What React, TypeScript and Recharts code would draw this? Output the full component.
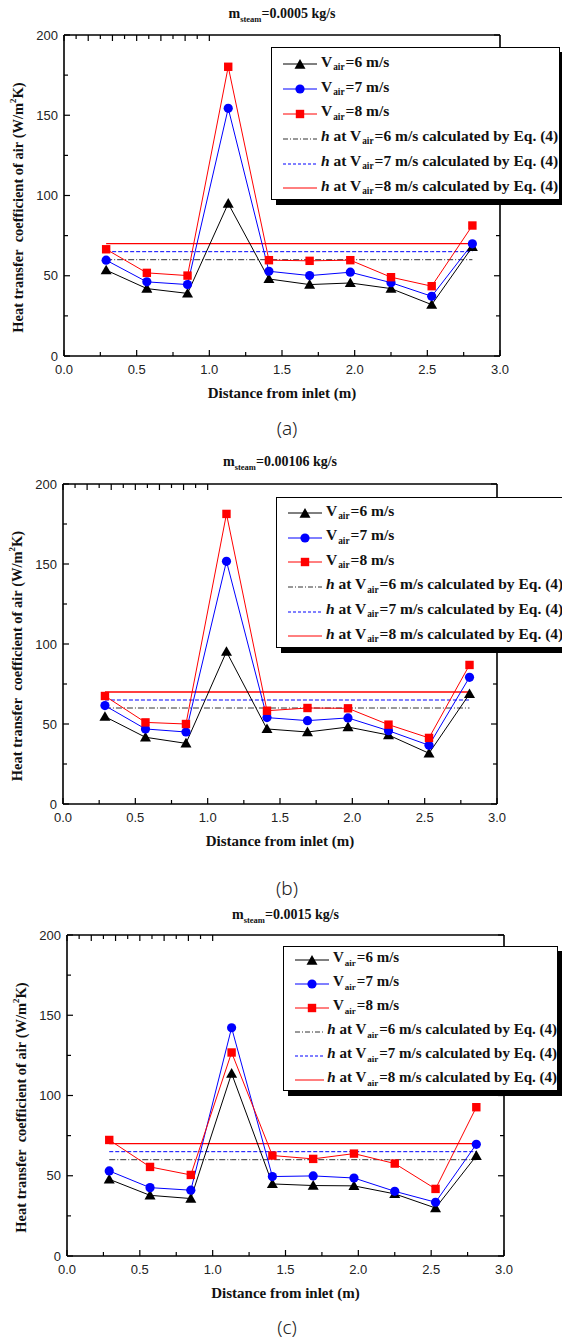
import React from 'react';
import { LineChart, Line, XAxis, YAxis, Legend, Label } from 'recharts';

// distance of each measuring point from the inlet (m)
const distance = [0.29, 0.57, 0.85, 1.13, 1.41, 1.69, 1.97, 2.25, 2.53, 2.81];

// (a) m_steam = 0.0005 kg/s
const hA6 = [53.5, 42, 39, 95, 48, 44.5, 45.5, 42, 32, 68];
const hA7 = [59.7, 46.2, 44.5, 154.3, 52.8, 50.1, 52.2, 45.7, 37.2, 69.9];
const hA8 = [66.5, 51.8, 50.1, 180.2, 59.7, 59.3, 59.7, 49.1, 43.5, 81.3];

// (b) m_steam = 0.00106 kg/s
const hB6 = [54.6, 41.7, 37.9, 95.2, 46.9, 45, 48.1, 43.1, 31.7, 68.8];
const hB7 = [61.5, 46.9, 45, 151.7, 54, 52.1, 53.8, 45.8, 36.7, 79.2];
const hB8 = [67.5, 51, 50, 181.3, 58.3, 60, 59.8, 49.6, 41.3, 86.9];

// (c) m_steam = 0.0015 kg/s
const hC6 = [47.8, 37.8, 35.8, 113.7, 44.9, 43.9, 43.7, 38.7, 29.9, 62.4];
const hC7 = [53, 42.6, 41, 142.2, 49.5, 49.9, 48.6, 40.3, 33.5, 69.6];
const hC8 = [72.3, 55.5, 50.5, 126.8, 62.6, 60.5, 63.8, 57.6, 41.8, 92.7];

// h from Eq. (4) for V_air = 6, 7, 8 m/s
const hEq = [60, 65, 70];

const airSpeeds = ['6', '7', '8'];
const steamRates = ['0.0005', '0.00106', '0.0015'];
const panelLetters = ['(a)', '(b)', '(c)'];

const xTicks = [0, 0.25, 0.5, 0.75, 1, 1.25, 1.5, 1.75, 2, 2.25, 2.5, 2.75, 3];
const yTicks = [0, 25, 50, 75, 100, 125, 150, 175, 200];

const buildRows = (v6: number[], v7: number[], v8: number[]) =>
  distance.map((x, i) => ({
    x,
    v6: v6[i],
    v7: v7[i],
    v8: v8[i],
    h6: hEq[0],
    h7: hEq[1],
    h8: hEq[2],
  }));

const panelData = [buildRows(hA6, hA7, hA8), buildRows(hB6, hB7, hB8), buildRows(hC6, hC7, hC8)];

const layouts = [
  { top: 0, plotTop: 35, plotBottom: 356, plotLeft: 64, plotRight: 500, titleY: 14, letterY: 428,
    legend: { left: 271, top: 47, width: 289, height: 153, padTop: 4, rowH: 24.8, font: 15.5 } },
  { top: 440, plotTop: 484, plotBottom: 804, plotLeft: 63, plotRight: 497, titleY: 462, letterY: 888,
    legend: { left: 276, top: 497, width: 292, height: 151, padTop: 3, rowH: 24.6, font: 15.5 } },
  { top: 890, plotTop: 935, plotBottom: 1256, plotLeft: 67, plotRight: 504, titleY: 915, letterY: 1327,
    legend: { left: 283, top: 946, width: 275, height: 145, padTop: 1, rowH: 24, font: 15 } },
];

const SERIF = '"Liberation Serif", "Times New Roman", serif';
const SANS = '"Liberation Sans", Arial, sans-serif';
const BLACK = '#000000';
const BLUE = '#0000ff';
const RED = '#ff0000';

const isMajor = (v: number, step: number) => Math.abs(v / step - Math.round(v / step)) < 1e-6;

const BottomTick = ({ x, y, payload }: any) => {
  const major = isMajor(payload.value, 0.5);
  return (
    <g>
      <line x1={x} x2={x} y1={y} y2={y - (major ? 6 : 4)} stroke="#000" strokeWidth={1.2} />
      {major && (
        <text x={x} y={y + 13} textAnchor="middle" dominantBaseline="central" fontFamily={SANS} fontSize={13} fill="#222">
          {payload.value.toFixed(1)}
        </text>
      )}
    </g>
  );
};

const TopTick = ({ x, y, payload }: any) => {
  const major = isMajor(payload.value, 0.5);
  return <line x1={x} x2={x} y1={y} y2={y + (major ? 6 : 4)} stroke="#000" strokeWidth={1.2} />;
};

const LeftTick = ({ x, y, payload }: any) => {
  const major = isMajor(payload.value, 50);
  return (
    <g>
      <line x1={x} x2={x + (major ? 6 : 4)} y1={y} y2={y} stroke="#000" strokeWidth={1.2} />
      {major && (
        <text x={x - 6} y={y} textAnchor="end" dominantBaseline="central" fontFamily={SANS} fontSize={13} fill="#222">
          {payload.value}
        </text>
      )}
    </g>
  );
};

const RightTick = ({ x, y, payload }: any) => {
  const major = isMajor(payload.value, 50);
  return <line x1={x} x2={x - (major ? 6 : 4)} y1={y} y2={y} stroke="#000" strokeWidth={1.2} />;
};

const triPath = (cx: number, cy: number, r: number) =>
  `M${cx},${cy - r} L${cx + r},${cy + r * 0.75} L${cx - r},${cy + r * 0.75} Z`;

const TriangleDot = ({ cx, cy }: any) =>
  cx == null ? null : <path d={triPath(cx, cy, 5.5)} fill={BLACK} />;
const CircleDot = ({ cx, cy }: any) => (cx == null ? null : <circle cx={cx} cy={cy} r={4.6} fill={BLUE} />);
const SquareDot = ({ cx, cy }: any) =>
  cx == null ? null : <rect x={cx - 4.2} y={cy - 4.2} width={8.4} height={8.4} fill={RED} />;

const XTitle = ({ viewBox }: any) => (
  <text
    x={viewBox.x + viewBox.width / 2}
    y={viewBox.y + 37}
    textAnchor="middle"
    dominantBaseline="central"
    fontFamily={SERIF}
    fontWeight="bold"
    fontSize={15}
    fill="#111"
  >
    Distance from inlet (m)
  </text>
);

const YTitle = ({ viewBox }: any) => {
  const cx = viewBox.x + viewBox.width - 46;
  const cy = viewBox.y + viewBox.height / 2 + 12;
  return (
    <text
      x={cx}
      y={cy}
      transform={`rotate(-90 ${cx} ${cy})`}
      textAnchor="middle"
      dominantBaseline="central"
      fontFamily={SERIF}
      fontWeight="bold"
      fontSize={14.5}
      fill="#111"
      style={{ whiteSpace: 'pre' }}
    >
      <tspan>{'Heat transfer  coefficient of air (W/m'}</tspan>
      <tspan dy={-5} fontSize={9}>2</tspan>
      <tspan dy={5}>K)</tspan>
    </text>
  );
};

const Sub = ({ children }: { children: React.ReactNode }) => (
  <span style={{ fontSize: '0.6em', verticalAlign: '-0.35em', margin: '0 1px' }}>{children}</span>
);

const LegendIcon = ({ kind }: { kind: number }) => {
  const line = (stroke: string, dash?: string) => (
    <line x1={1} x2={35} y1={7} y2={7} stroke={stroke} strokeWidth={1} strokeDasharray={dash} />
  );
  if (kind === 0) return <svg width={36} height={14}>{line(BLACK)}<path d={triPath(18, 7.5, 5.5)} fill={BLACK} /></svg>;
  if (kind === 1) return <svg width={36} height={14}>{line(BLUE)}<circle cx={18} cy={7} r={4.6} fill={BLUE} /></svg>;
  if (kind === 2) return <svg width={36} height={14}>{line(RED)}<rect x={13.8} y={2.8} width={8.4} height={8.4} fill={RED} /></svg>;
  if (kind === 3) return <svg width={36} height={14}>{line('#333', '5 2 1 2')}</svg>;
  if (kind === 4) return <svg width={36} height={14}>{line(BLUE, '3 2')}</svg>;
  return <svg width={36} height={14}>{line(RED)}</svg>;
};

const LegendBox = ({ cfg }: { cfg: any }) => {
  const rows = [
    ...airSpeeds.map((s) => (
      <>V<Sub>air</Sub>={s} m/s</>
    )),
    ...airSpeeds.map((s) => (
      <><i>h</i> at V<Sub>air</Sub>={s} m/s calculated by Eq. (4)</>
    )),
  ];
  return (
    <div
      style={{
        width: cfg.width,
        height: cfg.height,
        boxSizing: 'border-box',
        background: '#fff',
        border: '1.5px solid #000',
        boxShadow: '5px 5px 0 #000',
        paddingTop: cfg.padTop,
        paddingLeft: 10,
        fontFamily: SERIF,
        fontWeight: 'bold',
        fontSize: cfg.font,
        color: '#111',
      }}
    >
      {rows.map((content, i) => (
        <div key={i} style={{ display: 'flex', alignItems: 'center', height: cfg.rowH, whiteSpace: 'nowrap' }}>
          <LegendIcon kind={i} />
          <span style={{ marginLeft: 3, lineHeight: '16px' }}>{content}</span>
        </div>
      ))}
    </div>
  );
};

const Panel = ({ index }: { index: number }) => {
  const L = layouts[index];
  const data = panelData[index];
  const leftW = 58;
  const rightW = 10;
  const topH = 10;
  const bottomH = 50;
  const height = L.plotBottom - L.top + bottomH;
  return (
    <>
      <div
        style={{
          position: 'absolute',
          left: L.plotLeft,
          width: L.plotRight - L.plotLeft,
          top: L.titleY - 10,
          height: 20,
          lineHeight: '20px',
          textAlign: 'center',
          fontFamily: SERIF,
          fontWeight: 'bold',
          fontSize: 14,
          color: '#111',
        }}
      >
        m<span style={{ fontSize: 8.5, verticalAlign: '-4px' }}>steam</span>={steamRates[index]} kg/s
      </div>
      <div style={{ position: 'absolute', left: 0, top: L.top, width: 562, height }}>
        <LineChart
          width={562}
          height={height}
          data={data}
          margin={{
            top: L.plotTop - L.top - topH,
            left: L.plotLeft - leftW,
            right: 562 - L.plotRight - rightW,
            bottom: 0,
          }}
        >
          <XAxis
            dataKey="x"
            type="number"
            domain={[0, 3]}
            ticks={xTicks}
            interval={0}
            height={bottomH}
            tickSize={0}
            tickMargin={0}
            tickLine={false}
            tick={(p: any) => <BottomTick key={`b${p.index}`} x={p.x} y={p.y} payload={p.payload} />}
            axisLine={{ stroke: '#000', strokeWidth: 1.6 }}
            allowDataOverflow
          >
            <Label content={XTitle} />
          </XAxis>
          <XAxis
            xAxisId="top"
            orientation="top"
            type="number"
            domain={[0, 3]}
            ticks={xTicks}
            interval={0}
            height={topH}
            tickSize={0}
            tickMargin={0}
            tickLine={false}
            tick={(p: any) => <TopTick key={`t${p.index}`} x={p.x} y={p.y} payload={p.payload} />}
            axisLine={{ stroke: '#000', strokeWidth: 1.6 }}
            allowDataOverflow
          />
          <YAxis
            type="number"
            domain={[0, 200]}
            ticks={yTicks}
            interval={0}
            width={leftW}
            tickSize={0}
            tickMargin={0}
            tickLine={false}
            tick={(p: any) => <LeftTick key={`l${p.index}`} x={p.x} y={p.y} payload={p.payload} />}
            axisLine={{ stroke: '#000', strokeWidth: 1.6 }}
            allowDataOverflow
          >
            <Label content={YTitle} />
          </YAxis>
          <YAxis
            yAxisId="right"
            orientation="right"
            type="number"
            domain={[0, 200]}
            ticks={yTicks}
            interval={0}
            width={rightW}
            tickSize={0}
            tickMargin={0}
            tickLine={false}
            tick={(p: any) => <RightTick key={`r${p.index}`} x={p.x} y={p.y} payload={p.payload} />}
            axisLine={{ stroke: '#000', strokeWidth: 1.6 }}
            allowDataOverflow
          />
          <Line dataKey="h6" stroke="#333" strokeWidth={1} strokeDasharray="6 2 1 2" dot={false} activeDot={false} isAnimationActive={false} />
          <Line dataKey="h7" stroke={BLUE} strokeWidth={1} strokeDasharray="4 2" dot={false} activeDot={false} isAnimationActive={false} />
          <Line dataKey="h8" stroke={RED} strokeWidth={1.3} dot={false} activeDot={false} isAnimationActive={false} />
          <Line
            dataKey="v6"
            stroke={BLACK}
            strokeWidth={1}
            dot={(p: any) => <TriangleDot key={`d6${p.index}`} cx={p.cx} cy={p.cy} />}
            activeDot={false}
            isAnimationActive={false}
          />
          <Line
            dataKey="v7"
            stroke={BLUE}
            strokeWidth={1}
            dot={(p: any) => <CircleDot key={`d7${p.index}`} cx={p.cx} cy={p.cy} />}
            activeDot={false}
            isAnimationActive={false}
          />
          <Line
            dataKey="v8"
            stroke={RED}
            strokeWidth={1}
            dot={(p: any) => <SquareDot key={`d8${p.index}`} cx={p.cx} cy={p.cy} />}
            activeDot={false}
            isAnimationActive={false}
          />
          <Legend
            layout="vertical"
            align="center"
            verticalAlign="middle"
            wrapperStyle={{ left: L.legend.left, top: L.legend.top - L.top, width: 'auto', height: 'auto' }}
            content={() => <LegendBox cfg={L.legend} />}
          />
        </LineChart>
      </div>
      <div
        style={{
          position: 'absolute',
          left: 0,
          width: 574,
          top: L.letterY - 11,
          height: 22,
          lineHeight: '22px',
          textAlign: 'center',
          fontFamily: '"Noto Sans", "DejaVu Sans", sans-serif',
          fontWeight: 300,
          fontSize: 19,
          color: '#222',
        }}
      >
        {panelLetters[index]}
      </div>
    </>
  );
};

export default function App() {
  return (
    <div
      style={{
        position: 'absolute',
        left: 0,
        top: 0,
        width: 562,
        height: 1339,
        overflow: 'hidden',
        background: '#fff',
      }}
    >
      {[0, 1, 2].map((i) => (
        <Panel key={i} index={i} />
      ))}
    </div>
  );
}
